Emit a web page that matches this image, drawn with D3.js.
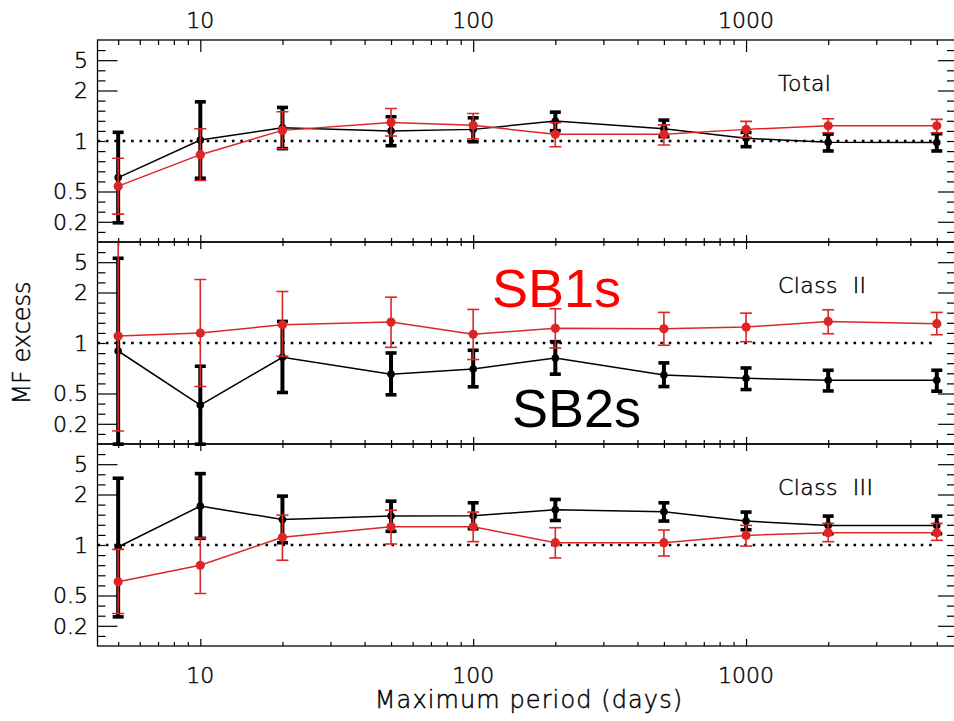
<!DOCTYPE html>
<html>
<head>
<meta charset="utf-8">
<script src="https://cdn.jsdelivr.net/npm/d3@7"></script>
<style>
  html, body { margin: 0; padding: 0; background: #fff; }
  svg { display: block; }
  text.lbl { font-family: "DejaVu Sans", sans-serif; font-weight: 200; fill: #000; stroke: #000; stroke-width: 0.45px; }
</style>
</head>
<body>
<script>
// ---------------- DATA ----------------
const periods = [5, 10, 20, 50, 100, 200, 500, 1000, 2000, 5000];

const xMajorTicks = [10, 100, 1000];
const xTickLabels = ["10", "100", "1000"];
const yTickValues = [0.2, 0.5, 1, 2, 5];
const yTickLabels = ["0.2", "0.5", "1", "2", "5"];

const panelNames = ["Total", "Class  II", "Class  III"];

// Total
const totalSB2   = [0.605, 1.014, 1.20, 1.147, 1.173, 1.314, 1.184, 1.037, 0.982, 0.978];
const totalSB2Lo = [0.194, 0.600, 0.90, 0.938, 0.990, 1.152, 1.061, 0.925, 0.872, 0.872];
const totalSB2Hi = [1.127, 1.712, 1.585, 1.395, 1.375, 1.486, 1.332, 1.125, 1.100, 1.105];
const totalSB1   = [0.538, 0.829, 1.157, 1.290, 1.240, 1.096, 1.096, 1.173, 1.233, 1.233];
const totalSB1Lo = [0.252, 0.582, 0.900, 1.070, 1.032, 0.925, 0.947, 1.051, 1.120, 1.120];
const totalSB1Hi = [0.789, 1.184, 1.495, 1.563, 1.460, 1.284, 1.248, 1.309, 1.356, 1.345];

// Class II
const c2SB2   = [0.896, 0.352, 0.822, 0.652, 0.700, 0.814, 0.645, 0.616, 0.600, 0.600];
const c2SB2Lo = [0.108, 0.108, 0.507, 0.481, 0.548, 0.652, 0.550, 0.528, 0.518, 0.516];
const c2SB2Hi = [5.63, 0.727, 1.345, 0.872, 0.905, 1.018, 0.761, 0.710, 0.688, 0.688];
const c2SB1   = [1.100, 1.147, 1.285, 1.332, 1.127, 1.223, 1.216, 1.245, 1.345, 1.303];
const c2SB1Lo = [0.161, 0.550, 0.835, 0.942, 0.797, 0.934, 0.969, 1.018, 1.136, 1.120];
const c2SB1Hi = [12.0, 2.957, 2.062, 1.876, 1.585, 1.600, 1.522, 1.507, 1.578, 1.522];

// Class III
const c3SB2   = [0.973, 1.705, 1.420, 1.487, 1.493, 1.622, 1.578, 1.389, 1.309, 1.309];
const c3SB2Lo = [0.262, 1.096, 1.032, 1.206, 1.250, 1.400, 1.389, 1.233, 1.168, 1.168];
const c3SB2Hi = [3.27, 3.76, 1.956, 1.825, 1.785, 1.869, 1.785, 1.571, 1.487, 1.487];
const c3SB1   = [0.603, 0.757, 1.111, 1.285, 1.285, 1.032, 1.032, 1.141, 1.184, 1.184];
const c3SB1Lo = [0.290, 0.514, 0.811, 1.014, 1.047, 0.837, 0.860, 0.986, 1.047, 1.066];
const c3SB1Hi = [0.942, 1.100, 1.507, 1.613, 1.571, 1.268, 1.228, 1.309, 1.345, 1.345];

const panelSB2 = [[totalSB2, totalSB2Lo, totalSB2Hi], [c2SB2, c2SB2Lo, c2SB2Hi], [c3SB2, c3SB2Lo, c3SB2Hi]];
const panelSB1 = [[totalSB1, totalSB1Lo, totalSB1Hi], [c2SB1, c2SB1Lo, c2SB1Hi], [c3SB1, c3SB1Lo, c3SB1Hi]];

// ---------------- LAYOUT ----------------
const W = 954, H = 721;
const left = 97.5, right = 956;
const panelTop0 = 40, panelH = 202;
const RED = "#dc2626", TEXTRED = "#ff0000";

const svg = d3.select("body").append("svg").attr("width", W).attr("height", H);

const x = d3.scaleLog().domain([4.2, 5880]).range([left, right]);
// non-uniform MF-excess axis: labelled values placed on a linear grid of units
const yU = d3.scaleLog().domain(yTickValues).range([-8, -5, 0, 5, 8]);

const allXTicks = x.ticks().filter(t => t >= 5);
const xMinor = allXTicks.filter(t => !xMajorTicks.includes(t));

panelNames.forEach((name, p) => {
  const top = panelTop0 + p * panelH;
  const yPix = d3.scaleLinear().domain([-10, 10]).range([top + panelH, top]);
  const y = v => yPix(yU(v));
  const g = svg.append("g");

  const clipId = "clip" + p;
  svg.append("clipPath").attr("id", clipId).append("rect")
    .attr("x", left).attr("y", top).attr("width", right - left).attr("height", panelH);

  // reference dotted line at 1
  g.append("line")
    .attr("x1", left).attr("x2", x(5000))
    .attr("y1", y(1)).attr("y2", y(1))
    .attr("stroke", "#000").attr("stroke-width", 2.6)
    .attr("stroke-dasharray", "2.6,5.8");

  // left / right y ticks (inward)
  const majorU = [-8, -5, 5, 8];
  const minorU = d3.range(-9, 10).filter(u => !majorU.includes(u));
  const tickAxis = (axisFn, tx, vals, len) =>
    g.append("g").attr("transform", `translate(${tx},0)`)
      .call(axisFn(yPix).tickValues(vals).tickSize(len).tickSizeOuter(0).tickFormat(""))
      .call(s => s.select(".domain").remove());
  tickAxis(d3.axisRight, left, minorU, 8);
  tickAxis(d3.axisRight, left, majorU, 20);
  tickAxis(d3.axisLeft, right, minorU, 9);
  tickAxis(d3.axisLeft, right, majorU, 18);

  // y labels
  yTickValues.forEach((v, i) => {
    g.append("text").attr("class", "lbl")
      .attr("x", 88).attr("y", y(v)).attr("dy", "0.36em")
      .attr("text-anchor", "end").attr("font-size", 22)
      .text(yTickLabels[i]);
  });

  // x ticks on top and bottom borders
  const topMaj = p === 0 ? 12 : 7, topMin = p === 0 ? 5 : 4;
  const xTickAxis = (axisFn, ty, vals, len) =>
    g.append("g").attr("transform", `translate(0,${ty})`)
      .call(axisFn(x).tickValues(vals).tickSize(len).tickSizeOuter(0).tickFormat(""))
      .call(s => s.select(".domain").remove());
  xTickAxis(d3.axisBottom, top, xMinor, topMin);
  xTickAxis(d3.axisBottom, top, xMajorTicks, topMaj);
  xTickAxis(d3.axisTop, top + panelH, xMinor, 4);
  xTickAxis(d3.axisTop, top + panelH, xMajorTicks, 7);

  g.selectAll(".tick line").attr("stroke", "#000").attr("stroke-width", 1.2);

  // panel label
  g.append("text").attr("class", "lbl")
    .attr("x", 778).attr("y", top + 51)
    .attr("font-size", 22).attr("letter-spacing", 0.4)
    .style("white-space", "pre")
    .text(name);

  // series
  const drawSeries = (vals, lo, hi, color, barW, capW, capHalf, r, lineW, clip) => {
    const sg = g.append("g");
    if (clip) sg.attr("clip-path", `url(#${clipId})`);
    const line = d3.line().x((d, i) => x(periods[i])).y(d => y(d));
    sg.append("path").datum(vals).attr("d", line)
      .attr("fill", "none").attr("stroke", color).attr("stroke-width", lineW);
    periods.forEach((per, i) => {
      const cx = x(per);
      sg.append("line").attr("x1", cx).attr("x2", cx)
        .attr("y1", y(lo[i])).attr("y2", y(hi[i]))
        .attr("stroke", color).attr("stroke-width", barW);
      [lo[i], hi[i]].forEach(v => {
        sg.append("line").attr("x1", cx - capHalf).attr("x2", cx + capHalf)
          .attr("y1", y(v)).attr("y2", y(v))
          .attr("stroke", color).attr("stroke-width", capW);
      });
      sg.append("circle").attr("cx", cx).attr("cy", y(vals[i])).attr("r", r).attr("fill", color);
    });
  };
  const [b, bl, bh] = panelSB2[p];
  drawSeries(b, bl, bh, "#000", 4, 3.6, 5.5, 3.8, 1.5, false);
  const [rr, rl, rh] = panelSB1[p];
  drawSeries(rr, rl, rh, RED, 1.6, 1.6, 6, 4.6, 1.5, true);

  // border
  g.append("rect")
    .attr("x", left).attr("y", top).attr("width", right - left).attr("height", panelH)
    .attr("fill", "none").attr("stroke", "#000").attr("stroke-width", 1.3);
});

// top / bottom x labels
xMajorTicks.forEach((t, i) => {
  svg.append("text").attr("class", "lbl").attr("x", x(t)).attr("y", 28)
    .attr("text-anchor", "middle").attr("font-size", 22).text(xTickLabels[i]);
  svg.append("text").attr("class", "lbl").attr("x", x(t)).attr("y", 683)
    .attr("text-anchor", "middle").attr("font-size", 22).text(xTickLabels[i]);
});

// axis titles
svg.append("text").attr("class", "lbl").attr("x", 529).attr("y", 708)
  .attr("text-anchor", "middle").attr("font-size", 24).attr("letter-spacing", 1.1)
  .text("Maximum period (days)");
svg.append("text").attr("class", "lbl")
  .attr("transform", `translate(30,343) rotate(-90)`)
  .attr("text-anchor", "middle").attr("font-size", 24)
  .text("MF excess");

// series labels
svg.append("text").attr("x", 492).attr("y", 307)
  .style("font-family", "'Liberation Sans', Arial, sans-serif")
  .attr("font-size", 54).attr("fill", TEXTRED).text("SB1s");
svg.append("text").attr("x", 512).attr("y", 427)
  .style("font-family", "'Liberation Sans', Arial, sans-serif")
  .attr("font-size", 54).attr("fill", "#000").text("SB2s");
</script>
</body>
</html>
